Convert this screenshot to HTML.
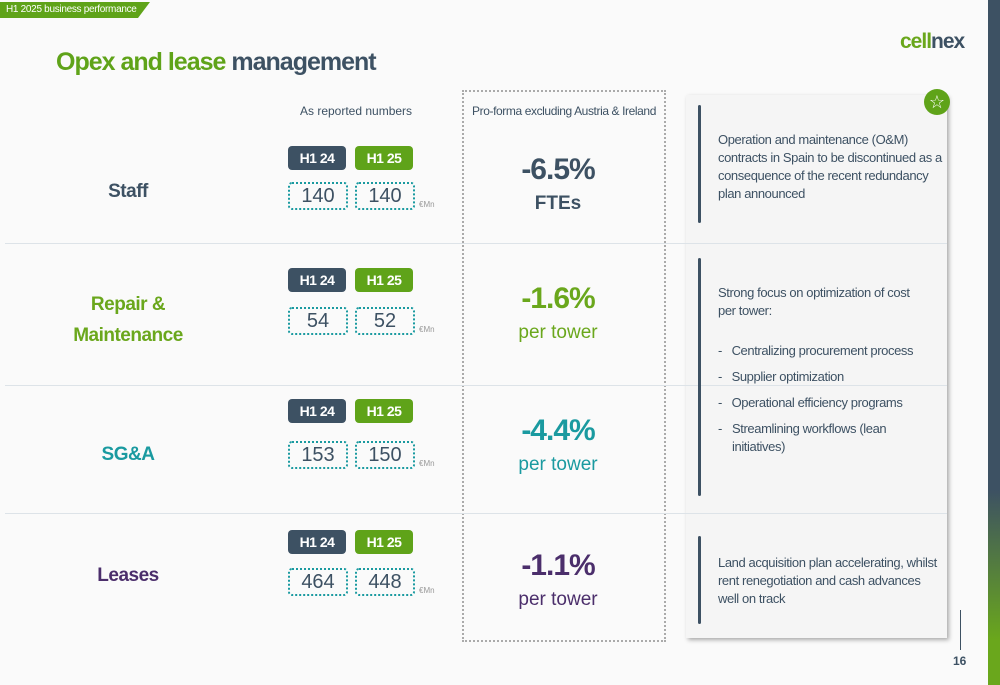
<!DOCTYPE html>
<html><head><meta charset="utf-8"><style>
body{margin:0;width:1000px;height:685px;background:#fafafa;position:relative;overflow:hidden;font-family:"Liberation Sans",sans-serif;}
.a{position:absolute;}
.tag{font-weight:bold;font-size:14px;color:#fff;border-radius:4px;text-align:center;line-height:24px;width:58px;height:24px;letter-spacing:-0.5px}
.val{width:56px;height:24px;border:2px dotted #1a9aa0;border-radius:4px;text-align:center;font-size:20px;line-height:24px;color:#3d5163;}
.mn{font-size:8px;color:#999}
.lbl{font-weight:bold;font-size:19px;text-align:center;width:160px;letter-spacing:-0.5px}
.pct{font-weight:bold;font-size:30px;text-align:center;width:200px;letter-spacing:-1px}
.sub{font-size:19px;text-align:center;width:200px}
.txt{font-size:13px;color:#3d5163;line-height:18px;letter-spacing:-0.4px}
.bar{width:3px;background:#3d5163;border-radius:2px}
</style></head><body>
<div class="a" style="left:0;top:2px;width:150px;height:16px;background:#5fa319;clip-path:polygon(0 0,100% 0,92% 100%,0 100%);color:#fff;font-size:10px;line-height:16px;padding-left:6px;box-sizing:border-box;white-space:nowrap;letter-spacing:-0.3px">H1 2025 business performance</div>
<div class="a" style="left:56px;top:48px;font-size:25px;font-weight:bold;letter-spacing:-1px"><span style="color:#5fa319">Opex and lease</span> <span style="color:#3d5163">management</span></div>
<div class="a" style="left:900px;top:30px;font-size:21px;font-weight:bold;letter-spacing:-1px"><span style="color:#6aa71c">cell</span><span style="color:#3d5163">nex</span></div>
<div class="a" style="left:988px;top:0;width:12px;height:685px;background:linear-gradient(#3d5163 0,#3d5163 490px,#6aa71c 640px)"></div>
<div class="a" style="left:300px;top:104px;font-size:12px;color:#3d5163">As reported numbers</div>
<div class="a" style="left:462px;top:90px;width:200px;height:548px;border:2px dotted #aaa"></div>
<div class="a" style="left:462px;top:104px;width:204px;text-align:center;font-size:12px;color:#3d5163;letter-spacing:-0.4px">Pro-forma excluding Austria &amp; Ireland</div>
<div class="a" style="left:686px;top:95px;width:261px;height:543px;background:#f5f5f5;box-shadow:2px 2px 4px #aaa"></div>
<div class="a" style="left:924px;top:89px;width:26px;height:26px;border-radius:50%;background:#5fa319;color:#fff;text-align:center;line-height:26px;font-size:18px">☆</div>
<div id="rows"></div>
<div class="a bar" style="left:698px;top:105px;height:118px"></div>
<div class="a txt" style="left:718px;top:131px;width:225px">Operation and maintenance (O&amp;M) contracts in Spain to be discontinued as a consequence of the recent redundancy plan announced</div>
<div class="a bar" style="left:698px;top:258px;height:238px"></div>
<div class="a txt" style="left:718px;top:284px;width:225px">Strong focus on optimization of cost<br>per tower:
<div style="margin-top:18px;line-height:26px">-&nbsp;&nbsp;&nbsp;Centralizing procurement process<br>-&nbsp;&nbsp;&nbsp;Supplier optimization<br>-&nbsp;&nbsp;&nbsp;Operational efficiency programs</div>
<div style="display:flex;margin-top:4px"><span style="width:14px">-</span><span>Streamlining workflows (lean<br>initiatives)</span></div></div>
<div class="a bar" style="left:698px;top:536px;height:88px"></div>
<div class="a txt" style="left:718px;top:554px;width:225px">Land acquisition plan accelerating, whilst rent renegotiation and cash advances well on track</div>
<div class="a" style="left:960px;top:610px;width:1px;height:40px;background:#3d5163"></div>
<div class="a" style="left:953px;top:654px;font-size:12px;font-weight:bold;color:#3d5163">16</div>
<script>
const categories=["Staff","Repair & Maintenance","SG&A","Leases"];
const h124=[140,54,153,464];
const h125=[140,52,150,448];
const pctLabels=["-6.5%","-1.6%","-4.4%","-1.1%"];
const subLabels=["FTEs","per tower","per tower","per tower"];
const colors=["#3d5163","#6aa71c","#1a9aa0","#4b2e6b"];
const rowTops=[143,265,396,527];
const valTops=[182,307,441,568];
const pctTops=[153,282,414,549];
const lblTops=[181,289,444,565];
const sepY=[243,385,513];
const root=document.getElementById('rows');
function mk(cls,style,html){const d=document.createElement('div');d.className='a '+cls;d.style.cssText=style;d.innerHTML=html;root.appendChild(d);return d;}
sepY.forEach((y,i)=>{
 const s=mk('', `left:5px;top:${y}px;width:942px;height:1px;background:#dde3e8`, '');
 
 
});
categories.forEach((c,i)=>{
 const t=rowTops[i];
 const two=c.indexOf('&')>0&&c.length>10;
 const l=mk('lbl',`left:48px;top:${lblTops[i]}px;color:${colors[i]};${two?'line-height:31px;':''}`,two?'Repair &amp;<br>Maintenance':c.replace('&','&amp;'));
 
 
 const a=mk('tag',`left:288px;top:${t+3}px;background:#3d5163`,'H1 24');
 
 
 const b=mk('tag',`left:355px;top:${t+3}px;background:#5fa319`,'H1 25');
 
 
 const v1=mk('val',`left:288px;top:${valTops[i]}px`,h124[i]);
 
 
 const v2=mk('val',`left:355px;top:${valTops[i]}px`,h125[i]);
 
 
 const m=mk('mn',`left:419px;top:${valTops[i]+18}px`,'€Mn');
 
 
 const p=mk('pct',`left:458px;top:${pctTops[i]}px;color:${colors[i]}`,pctLabels[i]);
 
 
 const s=mk('sub',`left:458px;top:${pctTops[i]+40}px;color:${colors[i]};${i==0?'font-weight:bold':''}`,subLabels[i]);
 
 
});
</script>
</body></html>
